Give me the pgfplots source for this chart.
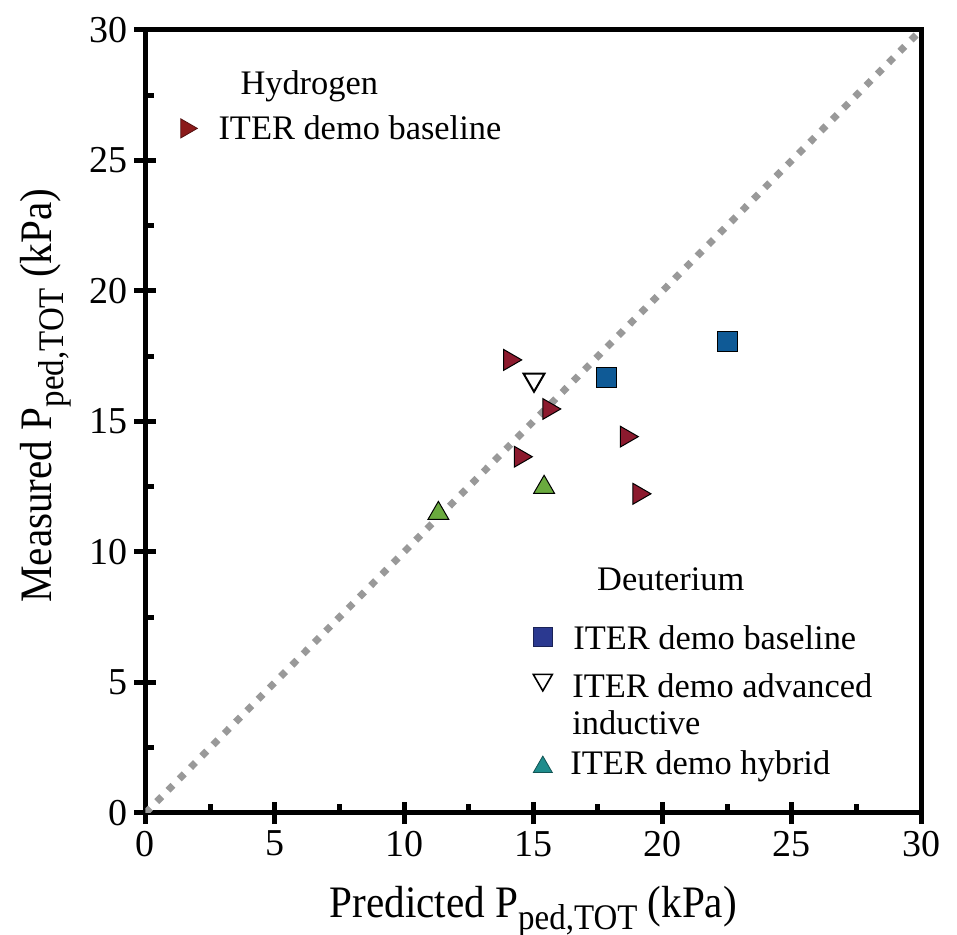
\documentclass[border=0pt]{standalone}
\usepackage{pgfplots}
\pgfplotsset{compat=1.18}
\usepackage{fontspec}
\setmainfont{Liberation Serif}
\usepackage{graphicx}

% marker colours
\definecolor{hred}{HTML}{8C1A2E}
\definecolor{hredkey}{HTML}{8B1A1A}
\definecolor{dblue}{HTML}{0F5A96}
\definecolor{dbluekey}{HTML}{2B3990}
\definecolor{dgreen}{HTML}{6AAA3E}
\definecolor{dtealkey}{HTML}{1E8C8C}
\definecolor{diag}{HTML}{999999}

\newcommand{\labfont}{\fontsize{22.5}{26}\selectfont}
\newcommand{\tickfont}{\fontsize{19}{22}\selectfont}
\newcommand{\legfont}{\fontsize{17.2}{20}\selectfont}
\newcommand{\pedtot}{\raisebox{-0.25em}{\scalebox{0.8}{ped,TOT}}}

\begin{document}
\begin{tikzpicture}
\begin{axis}[
  scale only axis,
  width=387.75pt, height=391.5pt,
  xmin=0, xmax=30, ymin=0, ymax=30,
  axis line style={line width=2.5pt},
  xtick={0,5,...,30}, ytick={0,5,...,30},
  xtick pos=bottom, ytick pos=left,
  tick align=center, major tick length=11pt,
  every tick/.style={black, line width=2.5pt},
  extra x ticks={2.5,7.5,...,27.5}, extra x tick labels={},
  extra y ticks={2.5,7.5,...,27.5}, extra y tick labels={},
  extra x tick style={grid=none, tick align=inside, major tick length=4.5pt},
  extra y tick style={grid=none, tick align=inside, major tick length=4.5pt},
  tick label style={font=\tickfont},
  /pgf/number format/assume math mode=true,
  xlabel={\scalebox{0.915}[1]{Predicted P\pedtot{} (kPa)}},
  ylabel={\scalebox{0.915}[1]{Measured P\pedtot{} (kPa)}},
  label style={font=\labfont},
  xlabel style={at={(axis description cs:0.5,-0.134)}, anchor=base},
  ylabel style={at={(axis description cs:-0.1206,0.533)}, anchor=base},
]

% line of equality
\addplot[diag, line width=3.5pt, dash pattern=on 3.5pt off 4.5pt, line cap=butt]
  coordinates {(0,0) (30,30)};

% hydrogen, ITER demo baseline
\addplot[only marks, mark=triangle*, mark size=6pt,
  mark options={rotate=-90, fill=hred, draw=black, line width=0.5pt}]
  coordinates {(14.09,17.36) (15.60,15.48) (18.60,14.42) (14.50,13.65) (19.09,12.23)};

% deuterium, ITER demo baseline
\addplot[only marks, mark=square*, mark size=5pt,
  mark options={fill=dblue, draw=black, line width=0.5pt}]
  coordinates {(17.84,16.68) (22.53,18.06)};

% deuterium, ITER demo advanced inductive
\addplot[only marks, mark=triangle, mark size=6pt,
  mark options={rotate=180, fill=white, draw=black, line width=1pt}]
  coordinates {(15.03,16.60)};

% deuterium, ITER demo hybrid
\addplot[only marks, mark=triangle*, mark size=6pt,
  mark options={fill=dgreen, draw=black, line width=0.5pt}]
  coordinates {(15.42,12.48) (11.33,11.48)};

% key symbols
\addplot[only marks, mark=triangle*, mark size=5.5pt,
  mark options={rotate=-90, fill=hredkey, draw=hredkey!60!black, line width=0.4pt}]
  coordinates {(1.58,26.23)};
\addplot[only marks, mark=square*, mark size=4.7pt,
  mark options={fill=dbluekey, draw=dbluekey!60!black, line width=0.4pt}]
  coordinates {(15.37,6.74)};
\addplot[only marks, mark=triangle, mark size=5.5pt,
  mark options={rotate=180, fill=white, draw=black, line width=0.8pt}]
  coordinates {(15.37,5.10)};
\addplot[only marks, mark=triangle*, mark size=5.5pt,
  mark options={fill=dtealkey, draw=dtealkey!60!black, line width=0.4pt}]
  coordinates {(15.37,1.76)};

% key texts
\begin{scope}[every node/.style={anchor=base west, inner sep=0pt, font=\legfont}]
\node at (axis cs:3.66,27.51) {Hydrogen};
\node at (axis cs:2.81,25.79) {ITER demo baseline};
\node at (axis cs:17.46,8.51) {Deuterium};
\node at (axis cs:16.54,6.28) {ITER demo baseline};
\node at (axis cs:16.50,4.44) {ITER demo advanced};
\node at (axis cs:16.50,2.99) {inductive};
\node at (axis cs:16.42,1.49) {ITER demo hybrid};
\end{scope}
\end{axis}
\pgfresetboundingbox
\path (-72.75pt,-61pt) rectangle (405.75pt,406.5pt);
\end{tikzpicture}
\end{document}
